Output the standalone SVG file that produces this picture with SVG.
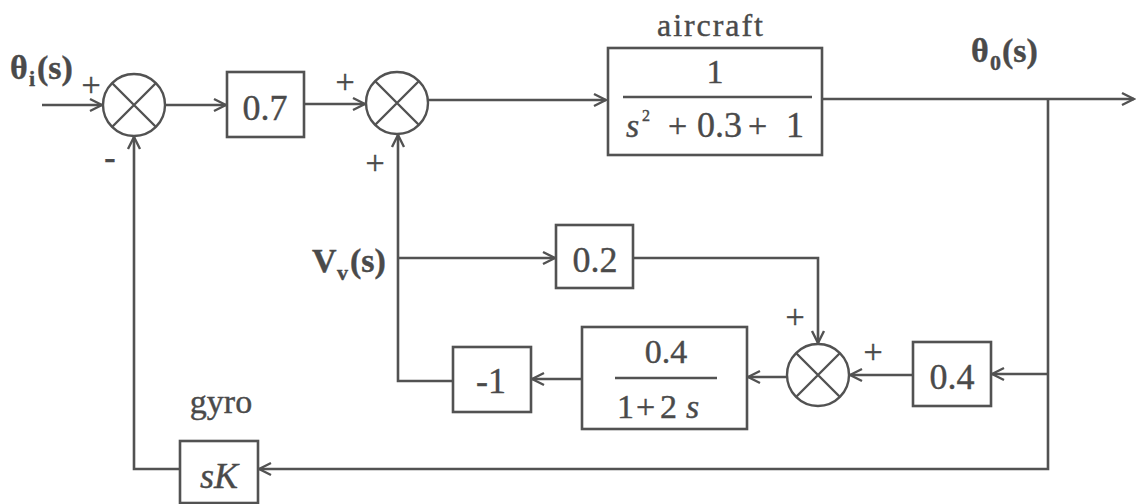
<svg xmlns="http://www.w3.org/2000/svg" width="1137" height="504" viewBox="0 0 1137 504">
<defs>
<style>
.ln{fill:none;stroke:#525252;stroke-width:2.6;stroke-linejoin:miter}
.bx{fill:none;stroke:#525252;stroke-width:2.6}
.sj{fill:none;stroke:#525252;stroke-width:2.4}
.t{fill:#4a4a4a;stroke:#4a4a4a;stroke-width:0.4}
.b{font-weight:bold}
.n{font-size:36px;text-anchor:middle}
.f{font-size:34px}
.sg{font-size:34px;text-anchor:middle}
</style>
<marker id="ar" viewBox="-14 -8 16 16" refX="0" refY="0" markerWidth="16" markerHeight="16" markerUnits="userSpaceOnUse" orient="auto">
<path d="M-12,-6 L0,0 L-12,6" fill="none" stroke="#525252" stroke-width="2.4"/>
</marker>
</defs>
<rect width="1137" height="504" fill="#ffffff"/>

<g id="connectors">
<path class="ln" d="M42,105 H102" marker-end="url(#ar)"/>
<path class="ln" d="M165,105 H226" marker-end="url(#ar)"/>
<path class="ln" d="M304,104 H365" marker-end="url(#ar)"/>
<path class="ln" d="M428,100 H606" marker-end="url(#ar)"/>
<path class="ln" d="M822,99 H1134" marker-end="url(#ar)"/>
<path class="ln" d="M1048,99 V469 H259" marker-end="url(#ar)"/>
<path class="ln" d="M1048,374 H992" marker-end="url(#ar)"/>
<path class="ln" d="M913,375 H850" marker-end="url(#ar)"/>
<path class="ln" d="M787,377 H748" marker-end="url(#ar)"/>
<path class="ln" d="M582,379 H532" marker-end="url(#ar)"/>
<path class="ln" d="M453,381 H398 V135" marker-end="url(#ar)"/>
<path class="ln" d="M398,258 H555" marker-end="url(#ar)"/>
<path class="ln" d="M633,258 H818 V343" marker-end="url(#ar)"/>
<path class="ln" d="M180,469 H134 V137" marker-end="url(#ar)"/>
</g>

<g font-family="'Liberation Serif', 'Times New Roman', Times, 'DejaVu Serif', serif">
<g id="theta_i">
<text class="t b" x="10" y="79" font-size="34">θ</text>
<text class="t b" x="29" y="86" font-size="22">i</text>
<text class="t b" x="37" y="79" font-size="34">(s)</text>
</g>

<g id="sum1">
<circle class="sj" cx="134" cy="105" r="31"/>
<path class="sj" d="M112,83 L156,127 M156,83 L112,127"/>
<text class="t sg" x="91" y="96">+</text>
<text class="t b sg" x="110" y="169">-</text>
</g>

<g id="gain07">
<rect class="bx" x="227" y="72" width="77" height="65"/>
<text class="t n" x="265" y="120">0.7</text>
</g>

<g id="sum2">
<circle class="sj" cx="397" cy="103" r="31"/>
<path class="sj" d="M375,81 L419,125 M419,81 L375,125"/>
<text class="t sg" x="345" y="93">+</text>
<text class="t sg" x="375" y="174">+</text>
</g>

<g id="aircraft">
<text class="t" x="710" y="36" font-size="32" text-anchor="middle" textLength="106" lengthAdjust="spacing">aircraft</text>
<rect class="bx" x="608" y="48" width="214" height="107"/>
<text class="t f" x="715" y="83" text-anchor="middle">1</text>
<line class="sj" x1="623" y1="97" x2="812" y2="97"/>
<text class="t f" y="137"><tspan x="626" font-style="italic">s</tspan><tspan x="642" y="121" font-size="16">2</tspan><tspan x="668" y="137">+</tspan><tspan x="697" font-size="36">0.3</tspan><tspan x="748">+</tspan><tspan x="786" font-size="36">1</tspan></text>
</g>

<g id="theta_o">
<text class="t b" x="971" y="62" font-size="34">θ</text>
<text class="t b" x="990" y="70" font-size="22">0</text>
<text class="t b" x="1002" y="62" font-size="34">(s)</text>
</g>

<g id="Vv">
<text class="t b" x="312" y="272" font-size="34">V</text>
<text class="t b" x="337" y="280" font-size="22">v</text>
<text class="t b" x="350" y="272" font-size="34">(s)</text>
</g>

<g id="gain02">
<rect class="bx" x="556" y="225" width="77" height="63"/>
<text class="t n" x="595" y="272">0.2</text>
</g>

<g id="sum3">
<circle class="sj" cx="818" cy="375" r="31"/>
<path class="sj" d="M796,353 L840,397 M840,353 L796,397"/>
<text class="t sg" x="795" y="328">+</text>
<text class="t sg" x="873" y="363">+</text>
</g>

<g id="gain04">
<rect class="bx" x="913" y="342" width="78" height="64"/>
<text class="t n" x="952" y="389">0.4</text>
</g>

<g id="lag">
<rect class="bx" x="582" y="327" width="165" height="102"/>
<text class="t f" x="666" y="363" text-anchor="middle" font-size="36">0.4</text>
<line class="sj" x1="615" y1="378" x2="717" y2="378"/>
<text class="t f" y="418"><tspan x="617">1</tspan><tspan x="636">+</tspan><tspan x="660">2</tspan><tspan x="686" font-style="italic">s</tspan></text>
</g>

<g id="gainm1">
<rect class="bx" x="453" y="347" width="78" height="65"/>
<text class="t n" x="491" y="393">-1</text>
</g>

<g id="gyro">
<text class="t" x="221" y="413" font-size="34" text-anchor="middle">gyro</text>
<rect class="bx" x="180" y="441" width="78" height="62"/>
<text class="t n" x="219" y="488" font-style="italic">sK</text>
</g>
</g>
</svg>
